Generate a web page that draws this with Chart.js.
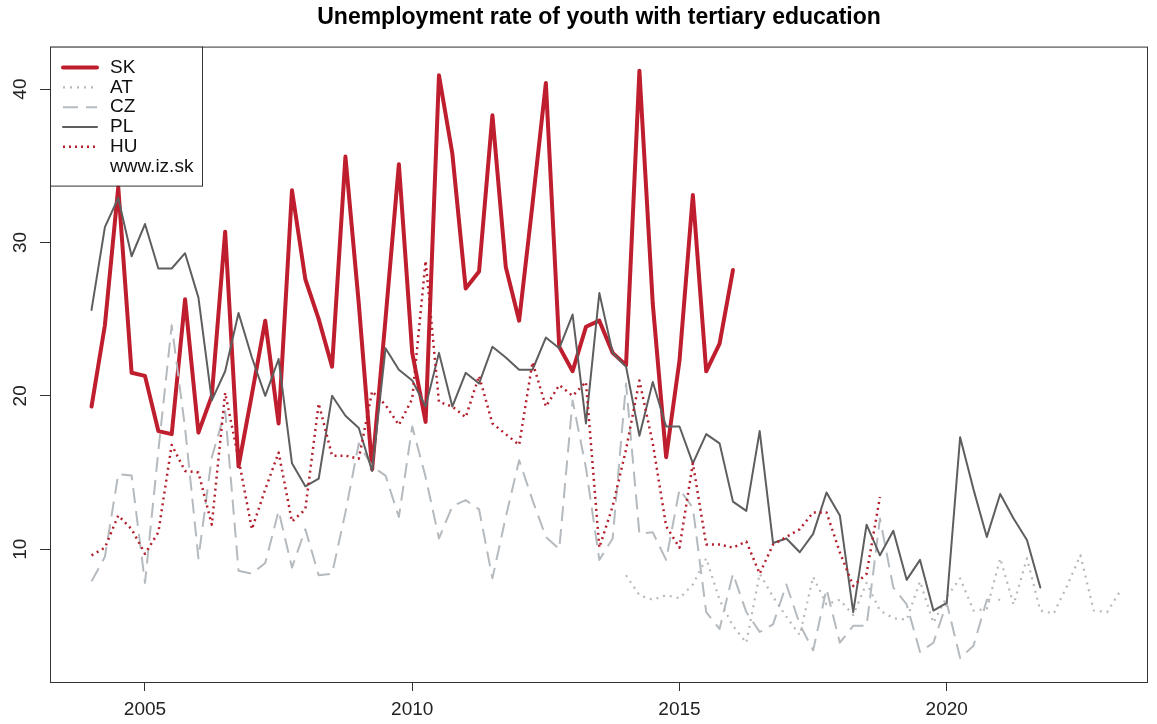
<!DOCTYPE html>
<html>
<head>
<meta charset="utf-8">
<script src="https://cdn.jsdelivr.net/npm/chart.js@4/dist/chart.umd.min.js"></script>
<style>
  html, body { margin: 0; padding: 0; background: #fff; }
</style>
</head>
<body>
<canvas id="chart" width="1157" height="724"></canvas>
<script>
// --- data (quarterly, first value = Q1 of start year) ---
const chartTitle = "Unemployment rate of youth with tertiary education";
const seriesNames = ["SK", "AT", "CZ", "PL", "HU"];
const creditText = "www.iz.sk";
const xTicks = [2005, 2010, 2015, 2020];
const yTicks = [10, 20, 30, 40];
const startYears = [2004, 2014, 2004, 2004, 2004];

const sk = [19.3, 24.6, 33.6, 21.5, 21.3, 17.7, 17.5, 26.3, 17.6, 20.0,
            30.7, 15.4, 20.1, 24.9, 18.2, 33.4, 27.6, 25.0, 21.9, 35.6,
            26.0, 15.2, 25.0, 35.1, 22.8, 18.3, 40.9, 35.8, 27.0, 28.1,
            38.3, 28.4, 24.9, 32.5, 40.4, 23.2, 21.6, 24.5, 24.9, 22.8,
            22.0, 41.2, 26.0, 16.0, 22.3, 33.1, 21.6, 23.4, 28.2];
const at = [8.3, 7.0, 6.7, 7.0, 6.8, 7.7, 9.4, 6.7, 5.0, 3.9,
            8.4, 6.9, 5.6, 4.4, 8.2, 6.4, 6.7, 5.7, 7.8, 6.0,
            5.5, 5.4, 7.9, 5.2, 6.9, 8.1, 6.0, 6.1, 9.4, 6.4,
            9.4, 6.0, 5.8, 7.6, 9.6, 6.0, 5.9, 7.3];
const cz = [7.9, 9.5, 14.9, 14.8, 7.8, 16.4, 24.6, 17.9, 9.4, 16.0,
            19.0, 8.6, 8.4, 9.1, 12.5, 8.8, 11.3, 8.3, 8.4, 12.4,
            16.9, 15.4, 14.8, 12.1, 18.0, 14.7, 10.7, 12.8, 13.2, 12.6,
            8.1, 12.1, 15.8, 13.2, 10.8, 10.0, 19.7, 15.3, 9.3, 10.7,
            20.8, 11.0, 11.1, 9.3, 13.9, 12.7, 5.9, 4.8, 8.4, 5.9,
            4.6, 5.1, 7.7, 5.1, 3.4, 7.4, 3.9, 5.0, 5.0, 12.0,
            7.5, 6.4, 3.3, 3.9, 6.5, 2.9, 3.7, 6.7, 6.7];
const pl = [25.6, 31.0, 32.9, 29.1, 31.2, 28.3, 28.3, 29.3, 26.4, 19.7,
            21.6, 25.4, 22.5, 20.0, 22.4, 15.6, 14.1, 14.6, 20.0, 18.7,
            17.9, 15.1, 23.1, 21.7, 21.0, 19.3, 22.8, 19.3, 21.5, 20.8,
            23.2, 22.5, 21.7, 21.7, 23.8, 23.1, 25.3, 18.2, 26.7, 22.8,
            21.9, 17.4, 20.9, 18.0, 18.0, 15.6, 17.5, 16.9, 13.1, 12.5,
            17.7, 10.4, 10.7, 9.8, 11.0, 13.7, 12.2, 5.9, 11.6, 9.6,
            11.2, 8.0, 9.3, 6.0, 6.5, 17.3, 13.9, 10.8, 13.6, 12.0,
            10.6, 7.5];
const hu = [9.6, 10.1, 12.2, 11.3, 9.7, 11.1, 16.8, 15.1, 15.0, 11.6,
            20.2, 15.9, 11.3, 13.9, 16.3, 11.8, 12.6, 19.5, 16.1, 16.1,
            15.9, 20.3, 19.4, 18.1, 19.8, 28.8, 19.6, 19.3, 18.6, 21.3,
            18.2, 17.5, 16.8, 22.2, 19.3, 20.7, 20.0, 20.9, 10.1, 12.8,
            16.5, 21.0, 16.9, 11.5, 10.1, 15.6, 10.3, 10.3, 10.1, 10.5,
            8.4, 10.3, 10.8, 11.3, 12.4, 12.4, 9.8, 7.6, 8.4, 13.4];

const FONT = "'Liberation Sans', Arial, Helvetica, sans-serif";
Chart.defaults.font.family = FONT;

function toPoints(values, start) {
  return values.map((v, i) => ({ x: start + i * 0.25, y: v }));
}

const styles = [
  { color: "#bf1e2e", width: 4,   dash: [],      order: 5, cap: "round" },
  { color: "#b8b8b8", width: 2.2, dash: [2, 5],  order: 4, cap: "butt" },
  { color: "#b5babf", width: 2,   dash: [15, 8], order: 3, cap: "butt" },
  { color: "#5e5e5e", width: 2,   dash: [],      order: 2, cap: "round" },
  { color: "#b3202d", width: 2.5, dash: [2, 4],  order: 1, cap: "butt" }
];
const allValues = [sk, at, cz, pl, hu];

const datasets = allValues.map((vals, i) => ({
  label: seriesNames[i],
  data: toPoints(vals, startYears[i]),
  borderColor: styles[i].color,
  borderWidth: styles[i].width,
  borderDash: styles[i].dash,
  borderCapStyle: styles[i].cap,
  borderJoinStyle: "round",
  pointRadius: 0,
  fill: false,
  tension: 0,
  order: styles[i].order
}));

// box around plot, R style
const frame = {
  id: "frame",
  afterDatasetsDraw(chart) {
    const { ctx, chartArea: a } = chart;
    ctx.save();
    ctx.strokeStyle = "#333";
    ctx.lineWidth = 1;
    ctx.strokeRect(a.left + 0.5, a.top + 0.5, a.right - a.left - 1, a.bottom - a.top);
    ctx.restore();
  }
};

// rotated y labels
const yLabels = {
  id: "yLabels",
  afterDraw(chart) {
    const { ctx } = chart;
    const y = chart.scales.y;
    ctx.save();
    ctx.fillStyle = "#222";
    ctx.font = "19px " + FONT;
    ctx.textAlign = "center";
    ctx.textBaseline = "middle";
    y.ticks.forEach(t => {
      ctx.save();
      ctx.translate(21, y.getPixelForValue(t.value));
      ctx.rotate(-Math.PI / 2);
      ctx.fillText(String(t.value), 0, 0);
      ctx.restore();
    });
    ctx.restore();
  }
};

// legend box in top-left corner
const boxLegend = {
  id: "boxLegend",
  afterDraw(chart) {
    const { ctx, chartArea: a } = chart;
    const left = a.left, top = a.top, w = 152, h = 139;
    ctx.save();
    ctx.fillStyle = "#fff";
    ctx.fillRect(left, top, w, h);
    ctx.strokeStyle = "#333";
    ctx.lineWidth = 1;
    ctx.strokeRect(left + 0.5, top + 0.5, w, h);
    ctx.font = "19px " + FONT;
    ctx.textBaseline = "middle";
    ctx.textAlign = "left";
    const rowY = i => top + 21 + i * 19.8;
    chart.data.datasets.forEach((ds, i) => {
      ctx.strokeStyle = ds.borderColor;
      ctx.lineWidth = ds.borderWidth;
      ctx.lineCap = ds.borderCapStyle;
      ctx.setLineDash(ds.borderDash);
      ctx.beginPath();
      ctx.moveTo(left + 13, rowY(i));
      ctx.lineTo(left + 47, rowY(i));
      ctx.stroke();
      ctx.setLineDash([]);
      ctx.fillStyle = "#111";
      ctx.fillText(ds.label, left + 60, rowY(i));
    });
    ctx.fillStyle = "#111";
    ctx.fillText(creditText, left + 60, rowY(seriesNames.length));
    ctx.restore();
  }
};

new Chart(document.getElementById("chart"), {
  type: "line",
  data: { datasets },
  options: {
    responsive: false,
    animation: false,
    layout: { padding: { left: 0, right: 9, top: 0, bottom: 0 } },
    scales: {
      x: {
        type: "linear",
        min: 2003.223,
        max: 2023.765,
        afterBuildTicks: s => { s.ticks = xTicks.map(v => ({ value: v })); },
        afterFit: s => { s.height = 42; },
        grid: { drawOnChartArea: false, drawTicks: true, tickLength: 9, color: "#333" },
        border: { display: false },
        ticks: {
          callback: v => String(v),
          color: "#222",
          font: { size: 19 },
          padding: 7,
          maxRotation: 0,
          autoSkip: false
        }
      },
      y: {
        min: 1.34,
        max: 42.77,
        afterBuildTicks: s => { s.ticks = yTicks.map(v => ({ value: v })); },
        afterFit: s => { s.width = 50; },
        grid: { drawOnChartArea: false, drawTicks: true, tickLength: 10, color: "#333" },
        border: { display: false },
        ticks: { display: false }
      }
    },
    plugins: {
      legend: { display: false },
      tooltip: { enabled: false },
      title: {
        display: true,
        fullSize: false,
        text: chartTitle,
        color: "#000",
        font: { size: 23, weight: "bold" },
        padding: { top: 4, bottom: 15 }
      }
    }
  },
  plugins: [frame, yLabels, boxLegend]
});
</script>
</body>
</html>
